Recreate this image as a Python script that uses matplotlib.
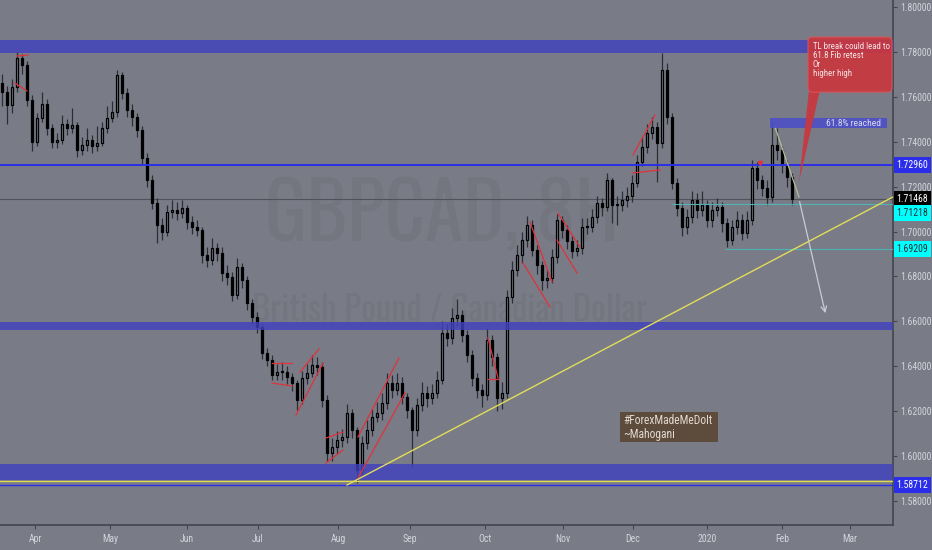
import numpy as np
import matplotlib.pyplot as plt
from matplotlib.patches import Rectangle, FancyBboxPatch, Polygon
import matplotlib.transforms as mtransforms

# couleurs du thème
bg = '#797c87'
axis_col = '#43454e'
label_col = '#d3d5dc'

# Données : une bougie = environ 1,5 jour (GBPCAD)
first_open = 1.7660
closes = [1.7621, 1.7563, 1.7644, 1.7773, 1.7742, 1.7586, 1.7399, 1.7506, 1.7568, 1.7461,
          1.7399, 1.7408, 1.7479, 1.7461, 1.7474, 1.7363, 1.7385, 1.7408, 1.7381, 1.7394,
          1.7461, 1.7506, 1.7532, 1.7697, 1.7617, 1.7541, 1.7510, 1.7452, 1.7327, 1.7229,
          1.7127, 1.7029, 1.6998, 1.7087, 1.7096, 1.7082, 1.7105, 1.7042, 1.7020, 1.7007,
          1.6895, 1.6873, 1.6927, 1.6904, 1.6815, 1.6797, 1.6717, 1.6842, 1.6784, 1.6681,
          1.6619, 1.6575, 1.6459, 1.6428, 1.6361, 1.6374, 1.6374, 1.6352, 1.6325, 1.6249,
          1.6347, 1.6370, 1.6405, 1.6396, 1.6249, 1.6013, 1.6040, 1.6071, 1.6085, 1.6192,
          1.6116, 1.5938, 1.6058, 1.6116, 1.6174, 1.6192, 1.6236, 1.6325, 1.6294, 1.6325,
          1.6263, 1.6205, 1.6116, 1.6227, 1.6281, 1.6258, 1.6281, 1.6339, 1.6548, 1.6526,
          1.6615, 1.6628, 1.6539, 1.6450, 1.6347, 1.6294, 1.6272, 1.6517, 1.6441, 1.6258,
          1.6281, 1.6708, 1.6829, 1.6895, 1.6962, 1.7029, 1.6918, 1.6851, 1.6784, 1.6793,
          1.6886, 1.7051, 1.7007, 1.6958, 1.6913, 1.6927, 1.7020, 1.7020, 1.7065, 1.7127,
          1.7109, 1.7229, 1.7118, 1.7118, 1.7140, 1.7158, 1.7216, 1.7310, 1.7376, 1.7439,
          1.7465, 1.7394, 1.7719, 1.7510, 1.7216, 1.7105, 1.7020, 1.7065, 1.7140, 1.7096,
          1.7118, 1.7051, 1.7096, 1.7109, 1.7038, 1.6962, 1.7020, 1.7051, 1.6993, 1.7051,
          1.7283, 1.7229, 1.7194, 1.7154, 1.7385, 1.7363, 1.7296, 1.7243, 1.7147]
highs = [1.7700, 1.7650, 1.7680, 1.7800, 1.7790, 1.7760, 1.7610, 1.7530, 1.7620, 1.7590,
         1.7480, 1.7440, 1.7520, 1.7500, 1.7550, 1.7490, 1.7420, 1.7460, 1.7430, 1.7470,
         1.7490, 1.7560, 1.7580, 1.7720, 1.7710, 1.7640, 1.7570, 1.7530, 1.7470, 1.7350,
         1.7250, 1.7150, 1.7060, 1.7120, 1.7140, 1.7130, 1.7140, 1.7120, 1.7070, 1.7050,
         1.7020, 1.6930, 1.6970, 1.6950, 1.6930, 1.6850, 1.6820, 1.6880, 1.6860, 1.6800,
         1.6700, 1.6640, 1.6590, 1.6480, 1.6450, 1.6410, 1.6420, 1.6400, 1.6370, 1.6340,
         1.6380, 1.6410, 1.6450, 1.6440, 1.6420, 1.6270, 1.6080, 1.6110, 1.6120, 1.6230,
         1.6210, 1.6130, 1.6090, 1.6160, 1.6210, 1.6240, 1.6280, 1.6370, 1.6360, 1.6370,
         1.6350, 1.6280, 1.6220, 1.6260, 1.6330, 1.6310, 1.6320, 1.6380, 1.6600, 1.6590,
         1.6660, 1.6700, 1.6650, 1.6560, 1.6470, 1.6370, 1.6320, 1.6570, 1.6540, 1.6460,
         1.6330, 1.6740, 1.6870, 1.6940, 1.7000, 1.7070, 1.7050, 1.6940, 1.6870, 1.6830,
         1.6920, 1.7080, 1.7070, 1.7030, 1.6980, 1.6960, 1.7060, 1.7060, 1.7100, 1.7160,
         1.7150, 1.7260, 1.7240, 1.7160, 1.7180, 1.7200, 1.7250, 1.7340, 1.7420, 1.7480,
         1.7510, 1.7490, 1.7795, 1.7750, 1.7530, 1.7240, 1.7130, 1.7100, 1.7180, 1.7170,
         1.7180, 1.7140, 1.7130, 1.7150, 1.7130, 1.7060, 1.7050, 1.7090, 1.7080, 1.7090,
         1.7320, 1.7310, 1.7250, 1.7230, 1.7490, 1.7460, 1.7380, 1.7320, 1.7260]
lows = [1.7560, 1.7480, 1.7530, 1.7620, 1.7700, 1.7560, 1.7360, 1.7380, 1.7490, 1.7430,
        1.7370, 1.7370, 1.7390, 1.7430, 1.7440, 1.7330, 1.7340, 1.7360, 1.7350, 1.7360,
        1.7380, 1.7440, 1.7490, 1.7510, 1.7590, 1.7510, 1.7470, 1.7420, 1.7300, 1.7200,
        1.7100, 1.6950, 1.6960, 1.6980, 1.7060, 1.7050, 1.7060, 1.7010, 1.6990, 1.6980,
        1.6860, 1.6840, 1.6850, 1.6870, 1.6780, 1.6760, 1.6690, 1.6700, 1.6750, 1.6650,
        1.6590, 1.6550, 1.6430, 1.6400, 1.6340, 1.6340, 1.6340, 1.6320, 1.6290, 1.6205,
        1.6230, 1.6320, 1.6350, 1.6360, 1.6220, 1.5980, 1.5980, 1.6010, 1.6040, 1.6060,
        1.6080, 1.5880, 1.5910, 1.6030, 1.6090, 1.6150, 1.6160, 1.6210, 1.6260, 1.6270,
        1.6230, 1.6170, 1.5950, 1.6090, 1.6200, 1.6220, 1.6230, 1.6260, 1.6320, 1.6490,
        1.6500, 1.6580, 1.6510, 1.6420, 1.6310, 1.6260, 1.6220, 1.6250, 1.6400, 1.6200,
        1.6210, 1.6260, 1.6680, 1.6800, 1.6860, 1.6930, 1.6890, 1.6810, 1.6740, 1.6750,
        1.6770, 1.6860, 1.6970, 1.6920, 1.6880, 1.6890, 1.6900, 1.6990, 1.7000, 1.7040,
        1.7070, 1.7090, 1.7040, 1.7030, 1.7090, 1.7110, 1.7130, 1.7200, 1.7290, 1.7350,
        1.7410, 1.7220, 1.7370, 1.7480, 1.7190, 1.7070, 1.6980, 1.6990, 1.7040, 1.7060,
        1.7070, 1.7020, 1.7020, 1.7070, 1.7000, 1.6930, 1.6940, 1.6990, 1.6960, 1.6970,
        1.7030, 1.7190, 1.7160, 1.7120, 1.7130, 1.7320, 1.7260, 1.7200, 1.7120]
opens = [first_open] + closes[:-1]

months = ['Apr', 'May', 'Jun', 'Jul', 'Aug', 'Sep', 'Oct', 'Nov', 'Dec', '2020', 'Feb', 'Mar']
month_pos = [6.6, 21.6, 37.0, 51.2, 67.2, 81.6, 96.6, 112.2, 126.2, 141.0, 156.0, 169.6]
price_ticks = [1.58, 1.60, 1.62, 1.64, 1.66, 1.68, 1.70, 1.72, 1.74, 1.76, 1.78, 1.80]

# zones de support / résistance (bas, haut)
zones = [(1.7795, 1.7853), (1.6561, 1.6597), (1.5893, 1.5965)]
resistance = 1.7296
last_price = 1.71468
support_low = 1.58712

# dessins : segments rouges (x1, x2, y1, y2)
red_lines = [
    (3.0, 5.2, 1.7782, 1.7786), (2.6, 5.0, 1.7661, 1.7626),
    (54.0, 58.0, 1.6414, 1.6414), (54.0, 58.0, 1.6325, 1.6312),
    (59.6, 63.4, 1.6374, 1.6477), (58.8, 64.2, 1.6183, 1.6414),
    (64.8, 68.2, 1.6080, 1.6107), (64.8, 68.2, 1.5969, 1.6027),
    (71.2, 79.4, 1.6085, 1.6437), (71.2, 80.6, 1.5902, 1.6281),
    (97.2, 99.2, 1.6526, 1.6347), (97.2, 99.2, 1.6343, 1.6343),
    (105.6, 110.0, 1.7042, 1.6775), (104.2, 109.6, 1.6860, 1.6664),
    (111.2, 115.6, 1.7082, 1.6931), (111.0, 115.0, 1.6962, 1.6815),
    (126.2, 130.6, 1.7341, 1.7519), (126.2, 131.6, 1.7261, 1.7274),
]
trend_x = [69.0, 178.2]
trend_y = [1.5871, 1.7154]

plt.rcParams['font.family'] = ['Roboto Condensed', 'DejaVu Sans']

fig = plt.figure(figsize=(9.32, 5.5), dpi=100, facecolor=bg)
ax = fig.add_axes([0, 0.04545, 0.95815, 0.95455])
ax.set_facecolor(bg)
ax.set_xlim(-0.4, 178.2)
ax.set_ylim(1.56927, 1.80312)

# filigrane
ax.text(0.495, 0.588, 'GBPCAD, 8H', transform=ax.transAxes, ha='center', va='center',
        fontsize=56, color='#73767f', zorder=0, family=['Oswald', 'DejaVu Sans'],
        fontweight='light')
ax.text(0.503, 0.41, 'British Pound / Canadian Dollar', transform=ax.transAxes,
        ha='center', va='center', fontsize=25, color='#73767f', zorder=0,
        family=['Oswald', 'DejaVu Sans'], fontweight='light')

# bougies
x = np.arange(len(closes))
o = np.array(opens)
c = np.array(closes)
up = c >= o
ax.vlines(x, lows, highs, color='#2c2e35', lw=0.9, zorder=2)
bottom = np.minimum(o, c)
height = np.maximum(np.abs(c - o), 0.0004)
ax.bar(x[up], height[up], bottom=bottom[up], width=0.5, color=bg,
       edgecolor='black', linewidth=0.9, zorder=3)
ax.bar(x[~up], height[~up], bottom=bottom[~up], width=0.5, color='black',
       edgecolor='black', linewidth=0.9, zorder=3)

# zones bleues
for lo, hi in zones:
    ax.axhspan(lo, hi, color='#4042bd', alpha=0.82, lw=0, zorder=4)
ax.axhline(resistance, color='#2b2ee8', lw=1.4, zorder=5)
ax.axhline(last_price, color='#50525a', lw=0.8, zorder=1)
ax.axhline(1.5888, color='#e0da55', lw=0.9, zorder=5)
ax.axhline(support_low, color='#2b2ee8', lw=1.0, zorder=5)
ax.hlines(1.71218, 134.0, 178.2, color='#4fb3b3', lw=0.8, zorder=5)
ax.hlines(1.69209, 144.6, 178.2, color='#4fb3b3', lw=0.8, zorder=5)

# canaux rouges
for x1, x2, y1, y2 in red_lines:
    ax.plot([x1, x2], [y1, y2], color='#e0323a', lw=0.9, zorder=6)
ax.plot(151.6, 1.7305, marker='v', color='#e0323a', ms=3, zorder=6)

# ligne de tendance jaune
ax.plot(trend_x, trend_y, color='#e2dc5a', lw=1.0, zorder=6)

# projection
ax.plot([154.6, 159.4], [1.7465, 1.7154], color='#b9b995', lw=0.9, zorder=6)
ax.annotate('', xy=(164.8, 1.6624), xytext=(159.4, 1.7145),
            arrowprops=dict(arrowstyle='->', color='#c9ccd3', lw=0.9), zorder=6)

# zone 61.8%
ax.add_patch(Rectangle((153.6, 1.7461), 23.4, 0.0045, color='#4a4ec8', alpha=0.85, lw=0, zorder=7))
ax.text(175.8, 1.7483, '61.8% reached', ha='right', va='center', fontsize=6.8,
        color='#d8daf2', zorder=8)

# bulle rouge
ax.add_patch(Polygon([[161.4, 1.7630], [163.6, 1.7630], [159.4, 1.7220]], closed=True,
                     color='#c9373f', alpha=0.92, lw=0, zorder=8))
ax.add_patch(FancyBboxPatch((161.2, 1.7621), 16.8, 0.0245,
                            boxstyle='round,pad=0,rounding_size=0.9', mutation_aspect=0.0022,
                            facecolor='#c9373f', edgecolor='#d8555c', lw=0.8, alpha=0.92, zorder=8))
ax.text(162.2, 1.7842, 'TL break could lead to\n61.8 Fib retest\nOr\nhigher high',
        ha='left', va='top', fontsize=6.4, color='#f4e4e4', linespacing=1.0, zorder=9)

# signature
ax.add_patch(Rectangle((123.6, 1.6062), 19.6, 0.0134, color='#5d4b3c', lw=0, zorder=7))
ax.text(124.2, 1.6129, '#ForexMadeMeDoIt\n~Mahogani', ha='left', va='center', fontsize=8.3,
        color='#e2dad2', linespacing=1.1, zorder=8)

# axes
for s in ['left', 'top']:
    ax.spines[s].set_visible(False)
for s in ['right', 'bottom']:
    ax.spines[s].set_color(axis_col)
    ax.spines[s].set_linewidth(1.2)
ax.yaxis.tick_right()
ax.set_yticks(price_ticks)
ax.set_yticklabels(['%.5f' % p for p in price_ticks])
ax.set_xticks(month_pos)
ax.set_xticklabels(months)
ax.tick_params(axis='both', colors=axis_col, labelcolor=label_col, labelsize=7, length=3)
ax.tick_params(axis='y', pad=2)

# étiquettes de prix
tr = mtransforms.blended_transform_factory(ax.transAxes, ax.transData)
tags = [(1.72960, 1.72960, '#2b2ee8', 'white'),
        (1.71468, 1.71468, 'black', 'white'),
        (1.71218, 1.7082, '#00ffff', '#2a2c33'),
        (1.69209, 1.69209, '#00ffff', '#2a2c33'),
        (1.58712, 1.58712, '#2b2ee8', 'white')]
for val, ypos, fc, tc in tags:
    ax.text(1.004, ypos, '%.5f' % val, transform=tr, ha='left', va='center', fontsize=7,
            color=tc, clip_on=False, zorder=10,
            bbox=dict(boxstyle='square,pad=0.3', fc=fc, ec='none'))

plt.savefig('out.png', dpi=100, facecolor=bg)
